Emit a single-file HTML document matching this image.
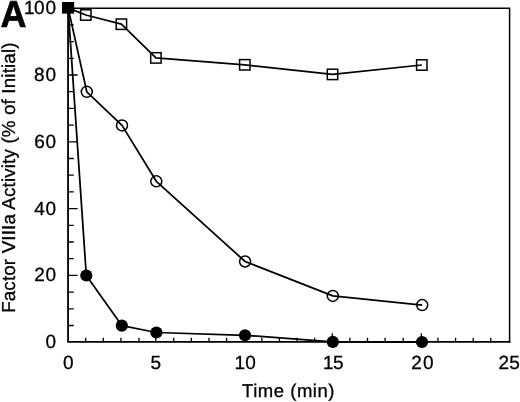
<!DOCTYPE html><html><head><meta charset="utf-8"><style>html,body{margin:0;padding:0;background:#fff;}svg{display:block}</style></head><body>
<svg width="520" height="402" viewBox="0 0 520 402" font-family="Liberation Sans, Arial, Helvetica, sans-serif" text-rendering="geometricPrecision">
<rect width="520" height="402" fill="#fff"/>
<path d="M68.05 8.2H509.6V341.85" fill="none" stroke="#000" stroke-width="1.5" stroke-linecap="square"/>
<path d="M68.05 8.2V341.85H509.6" fill="none" stroke="#000" stroke-width="1.8" stroke-linecap="square"/>
<path d="M85.70 341.85v-4.2M103.31 341.85v-4.2M120.93 341.85v-4.2M139.00 341.85v-4.2M155.80 341.85v-8.5M173.76 341.85v-4.2M191.37 341.85v-4.2M208.99 341.85v-4.2M226.60 341.85v-4.2M244.21 341.85v-8.5M261.82 341.85v-4.2M279.43 341.85v-4.2M297.05 341.85v-4.2M314.66 341.85v-4.2M332.27 341.85v-8.5M349.88 341.85v-4.2M367.49 341.85v-4.2M385.11 341.85v-4.2M403.20 341.85v-4.2M421.30 341.85v-8.5M437.94 341.85v-4.2M455.55 341.85v-4.2M473.17 341.85v-4.2M490.78 341.85v-4.2M68.05 325.50h5.7M68.05 308.80h5.7M68.05 292.10h5.7M68.05 275.40h9.6M68.05 258.70h5.7M68.05 242.00h5.7M68.05 225.30h5.7M68.05 208.60h9.6M68.05 191.90h5.7M68.05 175.20h5.7M68.05 158.50h5.7M68.05 141.80h9.6M68.05 125.10h5.7M68.05 108.40h5.7M68.05 91.70h5.7M68.05 75.00h9.6M68.05 58.30h5.7M68.05 41.60h5.7M68.05 24.90h5.7" stroke="#000" stroke-width="1.3" fill="none"/>
<polyline points="68.1,7.9 85.8,15.0 121.4,24.2 155.9,57.9 244.8,64.8 332.5,74.4 421.8,65.0" fill="none" stroke="#000" stroke-width="1.75" stroke-linejoin="round"/>
<polyline points="68.1,7.9 86.8,91.8 122.0,125.4 156.3,181.3 245.1,261.5 332.8,295.9 422.2,305.1" fill="none" stroke="#000" stroke-width="1.75" stroke-linejoin="round"/>
<polyline points="68.1,7.9 86.3,275.5 121.8,325.6 156.4,332.5 245.0,335.3 332.8,341.9 422.0,342.0" fill="none" stroke="#000" stroke-width="1.75" stroke-linejoin="round"/>
<rect x="80.6" y="9.8" width="10.4" height="10.4" fill="none" stroke="#000" stroke-width="1.5"/>
<rect x="116.2" y="19.0" width="10.4" height="10.4" fill="none" stroke="#000" stroke-width="1.5"/>
<rect x="150.7" y="52.7" width="10.4" height="10.4" fill="none" stroke="#000" stroke-width="1.5"/>
<rect x="239.6" y="59.6" width="10.4" height="10.4" fill="none" stroke="#000" stroke-width="1.5"/>
<rect x="327.3" y="69.2" width="10.4" height="10.4" fill="none" stroke="#000" stroke-width="1.5"/>
<rect x="416.6" y="59.8" width="10.4" height="10.4" fill="none" stroke="#000" stroke-width="1.5"/>
<circle cx="86.8" cy="91.8" r="5.5" fill="none" stroke="#000" stroke-width="1.5"/>
<circle cx="122.0" cy="125.4" r="5.5" fill="none" stroke="#000" stroke-width="1.5"/>
<circle cx="156.3" cy="181.3" r="5.5" fill="none" stroke="#000" stroke-width="1.5"/>
<circle cx="245.1" cy="261.5" r="5.5" fill="none" stroke="#000" stroke-width="1.5"/>
<circle cx="332.8" cy="295.9" r="5.5" fill="none" stroke="#000" stroke-width="1.5"/>
<circle cx="422.2" cy="305.1" r="5.5" fill="none" stroke="#000" stroke-width="1.5"/>
<circle cx="86.3" cy="275.5" r="6.1" fill="#000"/>
<circle cx="121.8" cy="325.6" r="6.1" fill="#000"/>
<circle cx="156.4" cy="332.5" r="6.1" fill="#000"/>
<circle cx="245.0" cy="335.3" r="6.1" fill="#000"/>
<circle cx="332.8" cy="341.9" r="6.1" fill="#000"/>
<circle cx="422.0" cy="342.0" r="6.1" fill="#000"/>
<rect x="62.0" y="2.0" width="12.2" height="11.6" fill="#000"/>
<text x="45.47" y="348.10" font-size="19" stroke="#000" stroke-width="0.3">0</text>
<text x="34.17 45.42" y="281.30" font-size="19" stroke="#000" stroke-width="0.3">20</text>
<text x="34.23 45.42" y="214.50" font-size="19" stroke="#000" stroke-width="0.3">40</text>
<text x="34.25 45.42" y="147.70" font-size="19" stroke="#000" stroke-width="0.3">60</text>
<text x="34.07 45.47" y="80.90" font-size="19" stroke="#000" stroke-width="0.3">80</text>
<text x="24.08 33.92 45.47" y="14.10" font-size="19" stroke="#000" stroke-width="0.3">100</text>
<text x="63.12" y="368.80" font-size="19" stroke="#000" stroke-width="0.3">0</text>
<text x="150.39" y="368.80" font-size="19" stroke="#000" stroke-width="0.3">5</text>
<text x="234.48 245.22" y="368.80" font-size="19" stroke="#000" stroke-width="0.3">10</text>
<text x="322.88 332.94" y="368.80" font-size="19" stroke="#000" stroke-width="0.3">15</text>
<text x="411.17 422.92" y="368.80" font-size="19" stroke="#000" stroke-width="0.3">20</text>
<text x="498.42 509.14" y="368.80" font-size="19" stroke="#000" stroke-width="0.3">25</text>
<text x="242.0" y="396.6" font-size="18.5" stroke="#000" stroke-width="0.3" letter-spacing="0.53">Time (min)</text>
<text transform="translate(14.9,177.6) rotate(-90)" font-size="18.8" stroke="#000" stroke-width="0.3" letter-spacing="0.15" text-anchor="middle">Factor VIIIa Activity (% of Initial)</text>
<text x="0.5" y="26.7" font-size="37.5" font-weight="bold" stroke="#000" stroke-width="0.7" stroke-linejoin="round" transform="translate(0.5 0) scale(0.96 1) translate(-0.5 0)">A</text>
</svg></body></html>
